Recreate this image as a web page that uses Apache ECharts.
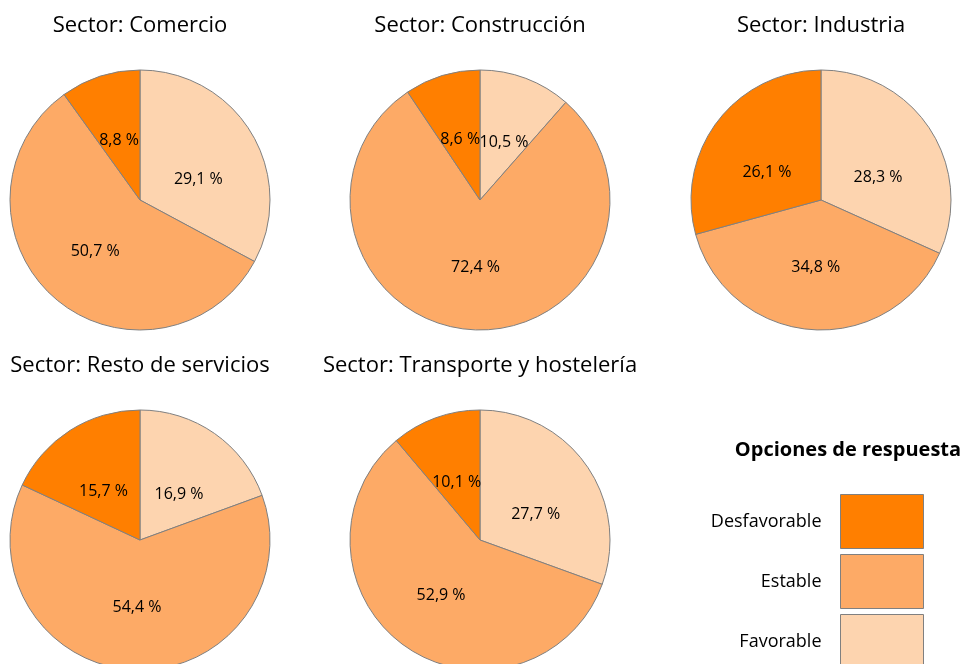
<!DOCTYPE html>
<html>
<head>
<meta charset="utf-8">
<script src="https://cdn.jsdelivr.net/npm/echarts@6/dist/echarts.min.js"></script>
<style>
  html, body { margin: 0; padding: 0; background: #fff; }
  #chart { width: 962px; height: 664px; }
</style>
</head>
<body>
<div id="chart"></div>
<script>
// opciones de respuesta (orden de dibujo: desde las 12 en sentido horario)
const categories = ['Favorable', 'Estable', 'Desfavorable'];
const legendOrder = ['Desfavorable', 'Estable', 'Favorable'];

const sectors = ['Comercio', 'Construcción', 'Industria', 'Resto de servicios', 'Transporte y hostelería'];

// porcentajes por sector, en el orden de categories
const comercio = [29.1, 50.7, 8.8];
const construccion = [10.5, 72.4, 8.6];
const industria = [28.3, 34.8, 26.1];
const restoServicios = [16.9, 54.4, 15.7];
const transporte = [27.7, 52.9, 10.1];

const sectorValues = [comercio, construccion, industria, restoServicios, transporte];

const colors = {
  Desfavorable: '#ff7f00',
  Estable: '#fdaa66',
  Favorable: '#fdd4af',
};

const centers = [[140, 200], [480, 200], [821, 200], [140, 540], [480, 540]];
const FONT = '"Open Sans", "Noto Sans", sans-serif';

const chart = echarts.init(document.getElementById('chart'), null, { renderer: 'canvas' });

const titles = sectors.map((s, i) => ({
  text: 'Sector: ' + s,
  left: centers[i][0],
  top: centers[i][1] - 185,
  padding: 0,
  textAlign: 'center',
  textStyle: { fontFamily: FONT, fontSize: 22, fontWeight: 'normal', color: '#000' },
}));

titles.push({
  text: 'Opciones de respuesta',
  left: 848,
  top: 440,
  padding: 0,
  textAlign: 'center',
  textStyle: { fontFamily: FONT, fontSize: 20, fontWeight: 'bold', color: '#000' },
});

// las etiquetas de la mitad superior van algo más abajo que el punto medio del sector
const nudgeLabel = (params) => {
  const c = centers[params.seriesIndex];
  const r = params.labelRect;
  const dx = r.x + r.width / 2 - c[0];
  const dy = r.y + r.height / 2 - c[1];
  const d = Math.hypot(dx, dy) || 1;
  return dy < 0 ? { dy: 17 * Math.abs(dx) / d } : {};
};

const series = sectorValues.map((vals, i) => ({
  type: 'pie',
  name: sectors[i],
  center: centers[i],
  radius: [0, 130],
  startAngle: 90,
  clockwise: true,
  silent: true,
  animation: false,
  itemStyle: { borderColor: '#808080', borderWidth: 1 },
  label: {
    show: true,
    position: 'inside',
    fontFamily: FONT,
    fontSize: 16,
    color: '#000',
    formatter: (p) => p.value.toFixed(1).replace('.', ',') + ' %',
  },
  labelLine: { show: false },
  labelLayout: nudgeLabel,
  data: categories.map((c, k) => ({
    name: c,
    value: vals[k],
    itemStyle: { color: colors[c] },
  })),
}));

const option = {
  backgroundColor: '#fff',
  title: titles,
  legend: {
    data: legendOrder.map((n) => ({ name: n, itemStyle: { color: colors[n], borderColor: '#808080', borderWidth: 1 } })),
    orient: 'vertical',
    align: 'right',
    right: 38,
    top: 494,
    height: 200,
    padding: 0,
    itemWidth: 83,
    itemHeight: 54,
    itemGap: 5,
    icon: 'rect',
    selectedMode: false,
    textStyle: { fontFamily: FONT, fontSize: 18, color: '#000', padding: [0, 14, 0, 0] },
  },
  series,
};

chart.setOption(option);
</script>
</body>
</html>
